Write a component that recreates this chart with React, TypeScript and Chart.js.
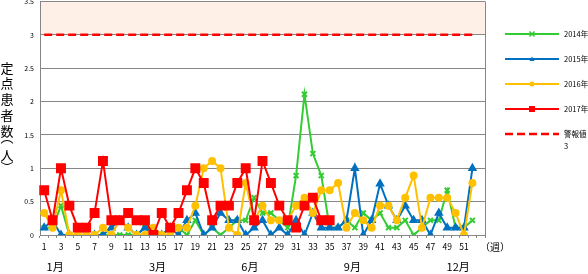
import React, { useEffect, useRef } from 'react';
import { Chart, registerables } from 'chart.js';

Chart.register(...registerables);

const weekLabels = ['1','2','3','4','5','6','7','8','9','10','11','12','13','14','15','16','17','18','19','20','21','22','23','24','25','26','27','28','29','30','31','32','33','34','35','36','37','38','39','40','41','42','43','44','45','46','47','48','49','50','51','52','53'];

const s2014 = [0.11,0.11,0.44,0,0,0,0,0,0,0,0,0,0.11,0.11,0,0.11,0.11,0,0.22,0,0.11,0,0.11,0.22,0.22,0.56,0.33,0.33,0.22,0.11,0.89,2.11,1.22,0.89,0.11,0.11,0.22,0.11,0.33,0.22,0.33,0.11,0.11,0.22,0,0.11,0.22,0.22,0.67,0.11,0.11,0.22];
const s2015 = [0.11,0.22,0,0,0,0,0,0,0.11,0.22,0.11,0,0.11,0,0,0.11,0,0.22,0.33,0,0.11,0.33,0.22,0.22,0,0.11,0.22,0,0.11,0,0.22,0,0.33,0.11,0.11,0.11,0.22,1.0,0,0.22,0.77,0.44,0.22,0.44,0.22,0.22,0,0.33,0.11,0.11,0.11,1.0];
const s2016 = [0.33,0.11,0.67,0,0,0,0,0.11,0,0.22,0.11,0,0,0.11,0,0,0.11,0.11,0.44,1.0,1.11,1.0,0.11,0,0.78,0.22,0.44,0.22,0.22,0.22,0.44,0.56,0.33,0.67,0.67,0.78,0.11,0.33,0.22,0.11,0.44,0.44,0.22,0.56,0.89,0.11,0.56,0.56,0.56,0.33,0,0.78];
const s2017 = [0.67,0.22,1.0,0.44,0.11,0.11,0.33,1.11,0.22,0.22,0.33,0.22,0.22,0,0.33,0.11,0.33,0.67,1.0,0.78,0.22,0.44,0.44,0.78,1.0,0.22,1.11,0.78,0.44,0.22,0.11,0.44,0.56,0.22,0.22];
const alarm = [3,3,3,3,3,3,3,3,3,3,3,3,3,3,3,3,3,3,3,3,3,3,3,3,3,3,3,3,3,3,3,3,3,3,3,3,3,3,3,3,3,3,3,3,3,3,3,3,3,3,3,3];

const seriesNames = ['2014年', '2015年', '2016年', '2017年', '警報値'];
const alarmLegendValue = '3';
const bandRange = [3, 3.5];
const yTicks = [0, 0.5, 1, 1.5, 2, 2.5, 3, 3.5];
const monthLabels = ['1月', '3月', '6月', '9月', '12月'];
const monthWeekPos = [2.3, 14.5, 25.5, 37.7, 50.3];
const yTitleChars = ['定', '点', '患', '者', '数', '︵', '人', '︶'];
const unitLabel = '（週）';

const FONT = '"Noto Sans CJK JP", "DejaVu Sans", sans-serif';
const GRID = '#868686';

const bandPlugin = {
  id: 'band',
  beforeDraw(chart: any) {
    const { ctx, chartArea, scales } = chart;
    const yA = scales.y.getPixelForValue(bandRange[0]);
    const yB = scales.y.getPixelForValue(bandRange[1]);
    ctx.save();
    ctx.fillStyle = '#FEF0E6';
    ctx.fillRect(chartArea.left, yB, chartArea.right - chartArea.left, yA - yB);
    ctx.restore();
  },
};

function drawMarker(ctx: CanvasRenderingContext2D, style: string, x: number, y: number, r: number, color: string) {
  ctx.save();
  ctx.fillStyle = color;
  ctx.strokeStyle = color;
  ctx.lineWidth = 1.5;
  ctx.beginPath();
  if (style === 'rect') {
    ctx.rect(x - r, y - r, 2 * r, 2 * r);
    ctx.fill();
  } else if (style === 'circle') {
    ctx.arc(x, y, r, 0, Math.PI * 2);
    ctx.fill();
  } else if (style === 'triangle') {
    ctx.moveTo(x, y - r);
    ctx.lineTo(x + r, y + r * 0.8);
    ctx.lineTo(x - r, y + r * 0.8);
    ctx.closePath();
    ctx.fill();
  } else if (style === 'crossRot') {
    ctx.moveTo(x - r, y - r); ctx.lineTo(x + r, y + r);
    ctx.moveTo(x + r, y - r); ctx.lineTo(x - r, y + r);
    ctx.stroke();
  }
  ctx.restore();
}

const decorPlugin = {
  id: 'decor',
  afterDraw(chart: any) {
    const { ctx, chartArea, scales } = chart;
    ctx.save();
    ctx.strokeStyle = GRID;
    ctx.lineWidth = 1;
    ctx.beginPath();
    const rx = Math.round(chartArea.right) + 0.5;
    ctx.moveTo(rx, chartArea.top);
    ctx.lineTo(rx, chartArea.bottom);
    ctx.stroke();

    ctx.fillStyle = '#000';
    ctx.font = `10px ${FONT}`;
    ctx.textAlign = 'left';
    ctx.textBaseline = 'middle';
    ctx.fillText(unitLabel, chartArea.right - 5, 247);

    ctx.font = `11px ${FONT}`;
    ctx.textAlign = 'center';
    monthLabels.forEach((m, i) => {
      const x = scales.x.getPixelForValue(monthWeekPos[i] - 1);
      ctx.fillText(m, x, 267);
    });

    ctx.font = `13px ${FONT}`;
    const ys = [68, 83.5, 99.5, 115, 131, 137, 155.5, 167];
    yTitleChars.forEach((c, i) => {
      ctx.fillText(c, 7, ys[i]);
    });

    const ds = chart.data.datasets;
    ctx.font = `7.5px ${FONT}`;
    [0, 1, 2, 3, 4].forEach((di, i) => {
      const d = ds[di];
      const y = 34 + 25 * i;
      ctx.save();
      ctx.strokeStyle = d.borderColor;
      ctx.lineWidth = d.borderWidth;
      if (d.borderDash) ctx.setLineDash(d.borderDash);
      ctx.beginPath();
      ctx.moveTo(505, y);
      ctx.lineTo(559, y);
      ctx.stroke();
      ctx.restore();
      if (d.pointRadius > 0) {
        drawMarker(ctx, d.pointStyle, 532, y, d.pointStyle === 'rect' ? 3 : 2.5, d.borderColor);
      }
      ctx.fillStyle = '#000';
      ctx.textAlign = 'left';
      ctx.textBaseline = 'middle';
      ctx.fillText(seriesNames[di], 564, y);
    });
    ctx.fillText(alarmLegendValue, 564, 146);
    ctx.restore();
  },
};

export default function App() {
  const ref = useRef<HTMLCanvasElement>(null);
  useEffect(() => {
    if (!ref.current) return;
    const chart = new Chart(ref.current, {
      type: 'line',
      data: {
        labels: weekLabels,
        datasets: [
          { label: seriesNames[0], data: s2014, borderColor: '#33CC33', backgroundColor: '#33CC33', borderWidth: 2, pointStyle: 'crossRot', pointRadius: 3.5, pointBorderWidth: 2, order: 4 },
          { label: seriesNames[1], data: s2015, borderColor: '#0070C0', backgroundColor: '#0070C0', borderWidth: 2, pointStyle: 'triangle', pointRadius: 3.5, order: 3 },
          { label: seriesNames[2], data: s2016, borderColor: '#FFC000', backgroundColor: '#FFC000', borderWidth: 2, pointStyle: 'circle', pointRadius: 3, order: 2 },
          { label: seriesNames[3], data: s2017, borderColor: '#FF0000', backgroundColor: '#FF0000', borderWidth: 2, pointStyle: 'rect', pointRadius: 5.6, order: 1 },
          { label: seriesNames[4], data: alarm, borderColor: '#FF0000', backgroundColor: '#FF0000', borderWidth: 2.5, borderDash: [8, 4], pointRadius: 0, order: 0 } as any,
        ],
      },
      options: {
        animation: false,
        responsive: false,
        maintainAspectRatio: false,
        layout: { autoPadding: false, padding: { left: 0, right: 103, top: 1.5, bottom: 0 } },
        plugins: { legend: { display: false }, tooltip: { enabled: false } },
        elements: { line: { tension: 0 } },
        scales: {
          x: {
            type: 'category',
            offset: true,
            grid: { display: true, drawOnChartArea: false, drawTicks: true, tickLength: 3, offset: true, color: GRID },
            border: { display: true, color: GRID },
            ticks: {
              autoSkip: false,
              maxRotation: 0,
              minRotation: 0,
              padding: 4,
              color: '#000',
              font: { family: FONT, size: 8.5 },
              callback: (_v: any, i: number) => (i % 2 === 0 && i < 52 ? weekLabels[i] : ''),
            },
            afterFit: (s: any) => { s.height = 39; s.paddingLeft = 0; s.paddingRight = 0; },
          },
          y: {
            min: 0,
            max: 3.5,
            afterBuildTicks: (s: any) => { s.ticks = yTicks.map((v) => ({ value: v })); },
            grid: { color: GRID, drawTicks: false },
            border: { display: true, color: GRID },
            ticks: {
              padding: 6,
              color: '#000',
              font: { family: FONT, size: 7 },
              callback: (v: any) => String(v),
            },
            afterFit: (s: any) => { s.width = 40; s.paddingTop = 0; s.paddingBottom = 0; },
          },
        },
      },
      plugins: [bandPlugin, decorPlugin],
    });
    return () => chart.destroy();
  }, []);
  return (
    <div style={{ position: 'fixed', left: 0, top: 0, width: 588, height: 274, background: '#fff' }}>
      <canvas ref={ref} width={588} height={274} style={{ width: 588, height: 274 }} />
    </div>
  );
}
